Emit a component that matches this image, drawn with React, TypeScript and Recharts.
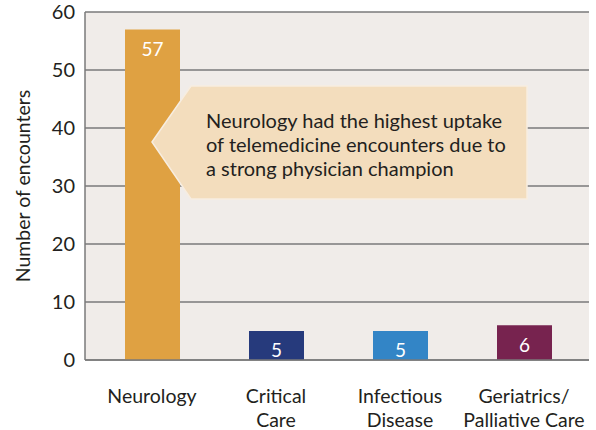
import React from "react";
import { BarChart, Bar, XAxis, YAxis, CartesianGrid, Cell, LabelList } from "recharts";

const categories = ["Neurology", "Critical\nCare", "Infectious\nDisease", "Geriatrics/\nPalliative Care"];
const encounters = [57, 5, 5, 6];
const barColors = ["#DFA142", "#263A7C", "#3385C6", "#77234F"];
const yTicks = [0, 10, 20, 30, 40, 50, 60];
const calloutLines = [
  "Neurology had the highest uptake",
  "of telemedicine encounters due to",
  "a strong physician champion",
];

const data = categories.map((c, i) => ({ name: c, value: encounters[i] }));

const FONT = "Lato, 'Open Sans', sans-serif";
const TEXT = "#231F20";

const XTick = (props: any) => {
  const { x, y, payload } = props;
  const lines = String(payload.value).split("\n");
  return (
    <g>
      {lines.map((l, i) => (
        <text key={i} x={x} y={y + 41 + i * 24} textAnchor="middle" fill={TEXT} fontSize={19.5} fontFamily={FONT}>
          {l}
        </text>
      ))}
    </g>
  );
};

export default function App() {
  return (
    <div style={{ position: "absolute", left: 0, top: 0, width: 596, height: 430, background: "#fff" }}>
      <BarChart
        width={596}
        height={430}
        data={data}
        margin={{ top: 12, right: 7, bottom: 0, left: 0 }}
        barSize={55}
      >
        <CartesianGrid vertical={false} fill="#F0ECE9" stroke="#7A7A7A" strokeWidth={1.5} />
        <XAxis
          dataKey="name"
          interval={0}
          tickLine={false}
          axisLine={{ stroke: "#7A7A7A", strokeWidth: 1.5 }}
          tick={<XTick />}
          tickSize={0}
          height={70}
          padding={{ left: 5, right: 3 }}
        />
        <YAxis
          domain={[0, 60]}
          ticks={yTicks}
          width={85}
          tickLine={false}
          tickSize={0}
          tickMargin={10}
          axisLine={{ stroke: "#7A7A7A", strokeWidth: 1.5 }}
          tick={{ fill: TEXT, fontSize: 20, fontFamily: FONT }}
          label={{
            content: (p: any) => {
              const vb = p.viewBox;
              const cy = vb.y + vb.height / 2;
              return (
                <text
                  x={22}
                  y={cy}
                  transform={`rotate(-90, 22, ${cy})`}
                  textAnchor="middle"
                  dominantBaseline="central"
                  fill={TEXT}
                  fontSize={19.5}
                  fontFamily={FONT}
                >
                  Number of encounters
                </text>
              );
            },
          }}
        />
        <Bar dataKey="value" isAnimationActive={false}>
          {data.map((d, i) => (
            <Cell key={i} fill={barColors[i]} />
          ))}
          <LabelList dataKey="value" position="insideTop" offset={13} fill="#FFFFFF" fontSize={19} fontFamily={FONT} />
        </Bar>
      </BarChart>
      <svg width={596} height={430} style={{ position: "absolute", left: 0, top: 0, pointerEvents: "none" }}>
        <polygon
          points="152,142 191,86 527,86 527,199 191,199"
          fill="#F3DDBD"
          stroke="#F7EDE0"
          strokeWidth={1.5}
        />
        {calloutLines.map((l, i) => (
          <text key={i} x={206} y={128 + i * 24} fill={TEXT} fontSize={20} fontFamily={FONT}>
            {l}
          </text>
        ))}
      </svg>
    </div>
  );
}
